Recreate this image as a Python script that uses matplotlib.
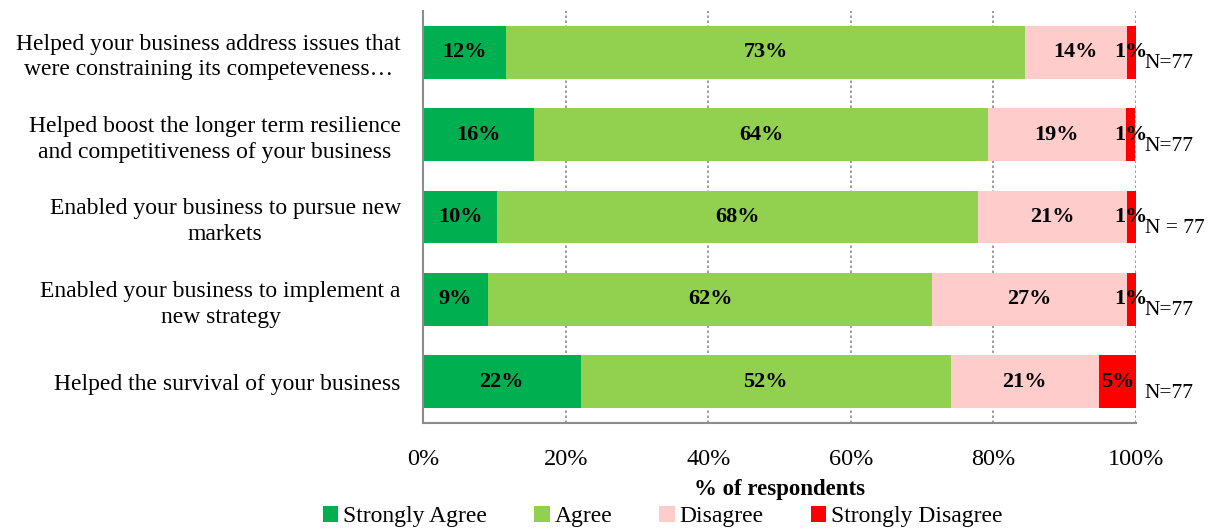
#!/usr/bin/env python3
# Stacked horizontal bars: agreement with statements about business support,
# share of respondents (N=77) per answer category.

import numpy as np
import matplotlib
matplotlib.use("Agg")
import matplotlib.pyplot as plt
from matplotlib.ticker import FuncFormatter

plt.rcParams["font.family"] = ["Liberation Serif", "DejaVu Serif"]

# ---------------------------------------------------------------------------
# Data (percent of respondents, top row first)
# ---------------------------------------------------------------------------

statements = [
    "Helped your business address issues that\nwere constraining its competeveness\u2026",
    "Helped boost the longer term resilience\nand competitiveness of your business",
    "Enabled your business to pursue new\nmarkets",
    "Enabled your business to implement a\nnew strategy",
    "Helped the survival of your business",
]
strongly_agree = [11.7, 15.6, 10.4, 9.1, 22.1]
agree = [72.7, 63.6, 67.5, 62.3, 51.9]
disagree = [14.3, 19.4, 20.8, 27.3, 20.8]
strongly_disagree = [1.3, 1.3, 1.3, 1.3, 5.2]
n_labels = ["N=77", "N=77", "N = 77", "N=77", "N=77"]

_SERIES = [
    ("Strongly Agree", strongly_agree, "#00B050"),
    ("Agree", agree, "#92D050"),
    ("Disagree", disagree, "#FFCCCC"),
    ("Strongly Disagree", strongly_disagree, "#FF0000"),
]


def main():
    fig = plt.figure(figsize=(12.16, 5.31), dpi=100)
    ax = fig.add_axes([0.3479, 0.2034, 0.9342 - 0.3479, 0.9793 - 0.2034])

    y = np.arange(len(statements))
    left = np.zeros(len(statements))
    for label, vals, color in _SERIES:
        vals = np.array(vals) / 100.0
        ax.barh(y, vals, left=left, height=0.64, color=color, label=label,
                zorder=2)
        for yi, (l, v) in enumerate(zip(left, vals)):
            ax.text(l + v / 2, yi, f"{v * 100:.0f}%", ha="center",
                    va="center", fontsize=16, fontweight="bold", zorder=3)
        left = left + vals

    for yi, txt in enumerate(n_labels):
        ax.text(1.012, yi + 0.14, txt, ha="left", va="center", fontsize=15.5,
                clip_on=False)

    ax.set_xlim(0, 1)
    ax.set_ylim(len(statements) - 0.5, -0.5)
    ax.set_xticks(np.linspace(0, 1, 6))
    ax.xaxis.set_major_formatter(FuncFormatter(lambda v, _: f"{v * 100:.0f}%"))
    ax.tick_params(axis="x", length=0, pad=19, labelsize=17.5)
    ax.set_yticks(y)
    ax.set_yticklabels(statements, fontsize=17, multialignment="center",
                       linespacing=1.3)
    ax.tick_params(axis="y", length=0, pad=16)

    ax.xaxis.grid(True, linestyle=(0, (1.5, 1.5)), color="#8c8c8c",
                  linewidth=1.2, zorder=1)
    ax.set_axisbelow(True)
    for side in ("top", "right"):
        ax.spines[side].set_visible(False)
    for side in ("left", "bottom"):
        ax.spines[side].set_color("#8c8c8c")
        ax.spines[side].set_linewidth(1.5)

    ax.set_xlabel("% of respondents", fontsize=16.5, fontweight="bold",
                  labelpad=6)

    fig.legend(loc="center", bbox_to_anchor=(0.545, 0.027), ncol=4,
               frameon=False, fontsize=17, handlelength=0.65,
               handleheight=0.65, handletextpad=0.2, columnspacing=2.0,
               borderaxespad=0, borderpad=0)

    fig.savefig("out.png", dpi=100)


if __name__ == "__main__":
    main()
